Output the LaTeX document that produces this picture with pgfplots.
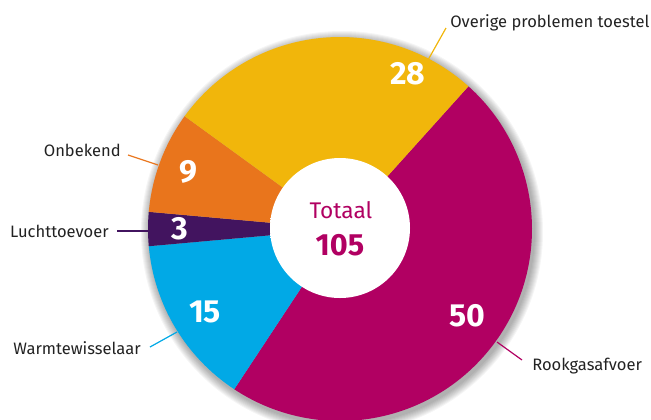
\documentclass[border=0pt]{standalone}
\usepackage{pgfplots}
\pgfplotsset{compat=1.18}
\usepackage{pgfplotstable}
\usepackage{fontspec}
\setmainfont{Fira Sans}
\definecolor{cMag}{HTML}{B10062}
\definecolor{cBlue}{HTML}{01A9E6}
\definecolor{cPurp}{HTML}{42145F}
\definecolor{cOrange}{HTML}{E9751C}
\definecolor{cYellow}{HTML}{F1B60B}
\definecolor{cText}{HTML}{222222}
\pgfdeclareradialshading{innershadow}{\pgfpoint{0bp}{0bp}}{color(0bp)=(white); color(29.5bp)=(white); color(35.36bp)=(black!28); color(50bp)=(black!28)}

% slices: value, colour, value-label position (px, y down)
\pgfplotstableread[col sep=comma]{
name,value,col,vx,vy
Rookgasafvoer,50,cMag,467,316
Warmtewisselaar,15,cBlue,205,312
Luchttoevoer,3,cPurp,180,229
Onbekend,9,cOrange,188,172
Overige problemen toestel,28,cYellow,408,74
}\slices

\def\cx{340}\def\cy{229}\def\Rpx{192}
\begin{document}
\begin{tikzpicture}
\useasboundingbox (0,-314.25pt) rectangle (488.25pt,0);
% cumulative angles, clockwise from 48 degrees
\pgfmathsetmacro\curang{48}
\pgfplotsforeachungrouped \i in {0,...,4}{%
  \pgfplotstablegetelem{\i}{value}\of\slices
  \pgfmathsetmacro\endang{\curang - \pgfplotsretval/105*360}%
  \expandafter\xdef\csname sa\i\endcsname{\curang}%
  \expandafter\xdef\csname ea\i\endcsname{\endang}%
  \global\let\curang\endang
}
\begin{axis}[
  at={(0,0)}, anchor=origin,
  x=0.75pt, y=0.75pt, y dir=reverse,
  xmin=0, xmax=651, ymin=0, ymax=419,
  hide axis, clip=false,
]
% soft outer shadow
\pgfplotsforeachungrouped \k in {1,...,9}{%
  \edef\tmp{\noexpand\fill[black, opacity=0.04] (axis cs:{\cx+2},{\cy+3}) circle[radius={(\Rpx+\k)*0.75pt}];}%
  \tmp
}
% slices
\pgfplotsforeachungrouped \i in {0,...,4}{%
  \pgfplotstablegetelem{\i}{col}\of\slices \let\scol\pgfplotsretval
  \edef\sa{\csname sa\i\endcsname}\edef\ea{\csname ea\i\endcsname}%
  \edef\tmp{\noexpand\fill[\scol] (axis cs:\cx,\cy) -- (axis cs:{\cx+\Rpx*cos(\sa)},{\cy-\Rpx*sin(\sa)}) arc[start angle=\sa, end angle=\ea, radius=144pt] -- cycle;}%
  \tmp
}
% inner circle
\shade[shading=innershadow] (axis cs:340,228) circle[radius=52.5pt];
% value labels
\pgfplotsforeachungrouped \i in {0,...,4}{%
  \pgfplotstablegetelem{\i}{value}\of\slices \let\sval\pgfplotsretval
  \pgfplotstablegetelem{\i}{vx}\of\slices \let\svx\pgfplotsretval
  \pgfplotstablegetelem{\i}{vy}\of\slices \let\svy\pgfplotsretval
  \edef\tmp{\noexpand\node[text=white, font=\noexpand\fontsize{24}{28}\noexpand\selectfont\noexpand\bfseries, inner sep=0pt] at (axis cs:\svx,\svy) {\sval};}%
  \tmp
}
% centre text
\node[text=cMag, font=\fontsize{17}{20}\selectfont, inner sep=0pt] at (axis cs:341,210) {Totaal};
\node[text=cMag, font=\fontsize{23}{27}\selectfont\bfseries, inner sep=0pt] at (axis cs:340,245) {105};
% leader lines
\draw[cYellow, line width=0.9pt] (axis cs:446,28) -- (axis cs:428,60);
\draw[cOrange, line width=0.9pt] (axis cs:128,155) -- (axis cs:158,165);
\draw[cPurp, line width=0.9pt] (axis cs:117,231) -- (axis cs:149,231);
\draw[cBlue, line width=0.9pt] (axis cs:150,347) -- (axis cs:177,332);
\draw[cMag, line width=0.9pt] (axis cs:522,360) -- (axis cs:497,342);
% category labels
\begin{scope}[every node/.style={text=cText, font=\fontsize{12.4}{14}\selectfont, inner sep=0pt}]
\node[anchor=base west] at (axis cs:450,27) {Overige problemen toestel};
\node[anchor=base east] at (axis cs:121,156) {Onbekend};
\node[anchor=base east] at (axis cs:109,237) {Luchttoevoer};
\node[anchor=base east] at (axis cs:141,354) {Warmtewisselaar};
\node[anchor=base west] at (axis cs:532,370) {Rookgasafvoer};
\end{scope}
\end{axis}
\end{tikzpicture}
\end{document}
